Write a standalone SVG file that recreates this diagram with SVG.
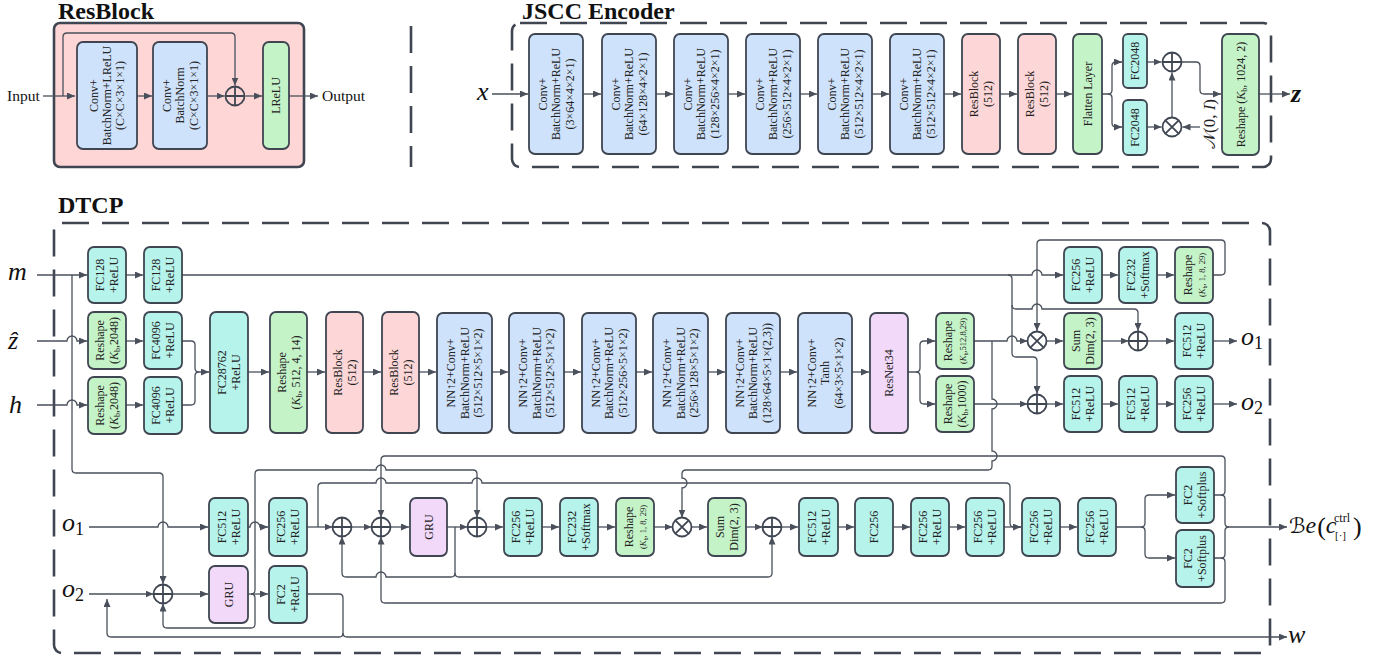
<svg xmlns="http://www.w3.org/2000/svg" width="1385" height="667" viewBox="0 0 1385 667">
<defs>
<marker id="ar" markerUnits="userSpaceOnUse" markerWidth="8" markerHeight="7" refX="8" refY="3.5" orient="auto"><path d="M0,0 L8,3.5 L0,7 z" fill="#4a505b"/></marker>
<style>
.bx{stroke:#3f4652;stroke-width:1.8}
.blue{fill:#cfe2fb}.pink{fill:#fdd7d7}.green{fill:#c5f3c8}.cyan{fill:#b6f3ea}.purple{fill:#f2d9fa}
.t{font-family:"Liberation Serif",serif;font-size:12px;fill:#222;text-anchor:middle}
.s{font-size:8.5px}
.ttl{font-family:"Liberation Serif",serif;font-size:24px;font-weight:bold;fill:#111}
.lab{font-family:"Liberation Serif",serif;font-size:26px;font-style:italic;fill:#111}
.io{font-family:"Liberation Serif",serif;font-size:15.5px;fill:#111}
.dash{fill:none;stroke:#3f4652;stroke-width:2.6;stroke-dasharray:27 13}
.c{fill:none;stroke:#4a505b;stroke-width:1.3}
.cm{fill:none;stroke:#4a505b;stroke-width:1.3;marker-end:url(#ar)}
.op{fill:none;stroke:#3f4652;stroke-width:1.8}
</style>
</defs>
<rect width="1385" height="667" fill="#fff"/>

<!-- titles -->
<text class="ttl" x="58" y="19">ResBlock</text>
<text class="ttl" x="522" y="19">JSCC Encoder</text>
<text class="ttl" x="58" y="213">DTCP</text>

<!-- frames -->
<rect x="54" y="23" width="250" height="144" rx="6" fill="#fed6d6" stroke="#3f4652" stroke-width="2.6"/>
<line x1="411" y1="26" x2="411" y2="167" class="dash"/>
<rect x="512" y="23" width="759" height="144" rx="8" class="dash"/>
<rect x="54" y="223" width="1216" height="430" rx="8" class="dash"/>

<!-- connectors -->
<g id="connectors">
<path class="cm" d="M43,96 H75"/>
<path class="cm" d="M63,96 V37 Q63,33 67,33 H231 Q235,33 235,37 V85.5"/>
<path class="cm" d="M137,96 H152"/>
<path class="cm" d="M207,96 H224.5"/>
<path class="cm" d="M245.5,96 H262"/>
<path class="cm" d="M289,96 H318"/>

<path class="cm" d="M492,94 H528"/>
<path class="cm" d="M583,94 H601"/>
<path class="cm" d="M656,94 H673"/>
<path class="cm" d="M728,94 H745"/>
<path class="cm" d="M800,94 H817"/>
<path class="cm" d="M872,94 H889"/>
<path class="cm" d="M944,94 H961"/>
<path class="cm" d="M1000,94 H1017"/>
<path class="cm" d="M1056,94 H1072"/>
<path class="cm" d="M1102,94 H1108 Q1112,94 1112,90 V66 Q1112,62 1116,62 H1122"/>
<path class="cm" d="M1108,94 Q1112,94 1112,98 V123 Q1112,127 1116,127 H1122"/>
<path class="cm" d="M1147,62 H1161.5"/>
<path class="cm" d="M1147,127 H1161.5"/>
<path class="cm" d="M1172,117.5 V72.5"/>
<path class="cm" d="M1200,127 H1182.5"/>
<path class="cm" d="M1182,62 H1196 Q1200,62 1200,66 V90 Q1200,94 1204,94 H1221"/>
<path class="cm" d="M1259,94 H1290"/>

<path class="cm" d="M37,275 H87"/>
<path class="cm" d="M126,275 H143"/>
<path class="cm" d="M182,275 H1032 A5,5 0 0 1 1042,275 H1063"/>
<path class="cm" d="M1008,275 Q1012,275 1012,279 V353 Q1012,357 1016,357 H1033 Q1037,357 1037,361 V394"/>
<path class="cm" d="M1012,305 Q1012,309 1016,309 H1032 A5,5 0 0 1 1042,309 H1134 Q1138,309 1138,313 V331"/>
<path class="cm" d="M1213,275 H1221 Q1225,275 1225,271 V244 Q1225,240 1221,240 H1041 Q1037,240 1037,244 V331"/>
<path class="cm" d="M37,341 H67 A5,5 0 0 1 77,341 H87"/>
<path class="cm" d="M37,405 H67 A5,5 0 0 1 77,405 H87"/>
<path class="cm" d="M72,275 V469 Q72,473 76,473 H159 Q163,473 163,477 V584"/>
<path class="cm" d="M126,341 H143"/>
<path class="cm" d="M126,405 H143"/>
<path class="cm" d="M182,341 H191 Q195,341 195,345 V368 Q195,372 199,372 H209"/>
<path class="c" d="M182,405 H191 Q195,405 195,401 V376 Q195,372 199,372"/>
<path class="cm" d="M248,372 H269"/>
<path class="cm" d="M307,372 H325"/>
<path class="cm" d="M363,372 H381"/>
<path class="cm" d="M419,372 H436"/>
<path class="cm" d="M492,372 H508"/>
<path class="cm" d="M564,372 H581"/>
<path class="cm" d="M636,372 H652"/>
<path class="cm" d="M708,372 H725"/>
<path class="cm" d="M780,372 H797"/>
<path class="cm" d="M852,372 H869"/>
<path class="cm" d="M908,372 H916 Q920,372 920,368 V345 Q920,341 924,341 H935"/>
<path class="cm" d="M916,372 Q920,372 920,376 V400 Q920,404 924,404 H935"/>
<path class="cm" d="M974,341 H1007 A5,5 0 0 1 1017,341 H1027.5"/>
<path class="cm" d="M992,341 V399 A5,5 0 0 1 992,409 V451 A5,5 0 0 1 992,461 V466 Q992,470 988,470 H686 Q682,470 682,474 V478 A5,5 0 0 1 682,488 V517.5"/>
<path class="cm" d="M974,404 H1027.5"/>
<path class="cm" d="M1046.5,341 H1063"/>
<path class="cm" d="M1102,341 H1128.5"/>
<path class="cm" d="M1147.5,341 H1174"/>
<path class="cm" d="M1213,341 H1237"/>
<path class="cm" d="M1046.5,404 H1063"/>
<path class="cm" d="M1102,404 H1118"/>
<path class="cm" d="M1157,404 H1174"/>
<path class="cm" d="M1213,404 H1237"/>
<path class="cm" d="M1102,275 H1118"/>
<path class="cm" d="M1157,275 H1174"/>

<path class="cm" d="M89,527 H158 A5,5 0 0 1 168,527 H208"/>
<path class="cm" d="M248,527 H250 A5,5 0 0 1 260,527 H268"/>
<path class="cm" d="M307,527 H332.5"/>
<path class="cm" d="M318,527 V487 Q318,483 322,483 H376 A5,5 0 0 1 386,483 H472 A5,5 0 0 1 482,483 H1006 Q1010,483 1010,487 V523 Q1010,527 1014,527 H1021"/>
<path class="cm" d="M351.5,527 H371.5"/>
<path class="cm" d="M390.5,527 H409"/>
<path class="cm" d="M447,527 H467.5"/>
<path class="cm" d="M455,527 V573 Q455,577 451,577 H386 A5,5 0 0 0 376,577 H346 Q342,577 342,573 V536.5"/>
<path class="cm" d="M455,573 Q455,577 459,577 H768 Q772,577 772,573 V536.5"/>
<path class="cm" d="M486.5,527 H503"/>
<path class="cm" d="M542,527 H559"/>
<path class="cm" d="M598,527 H615"/>
<path class="cm" d="M654,527 H672.5"/>
<path class="cm" d="M691.5,527 H707"/>
<path class="cm" d="M746,527 H762.5"/>
<path class="cm" d="M781.5,527 H798"/>
<path class="cm" d="M838,527 H854"/>
<path class="cm" d="M893,527 H910"/>
<path class="cm" d="M949,527 H965"/>
<path class="c" d="M1004,527 H1021"/>
<path class="cm" d="M1060,527 H1077"/>
<path class="cm" d="M1116,527 H1141 Q1145,527 1145,523 V499 Q1145,495 1149,495 H1175"/>
<path class="cm" d="M1141,527 Q1145,527 1145,531 V554 Q1145,558 1149,558 H1175"/>
<path class="cm" d="M1214,495 H1221 Q1225,495 1225,491 V460 Q1225,456 1221,456 H385 Q381,456 381,460 V517.5"/>
<path class="cm" d="M1221,495 Q1225,495 1225,499 V523 Q1225,527 1229,527 H1287"/>
<path class="c" d="M1214,558 H1221 Q1225,558 1225,554 V531 Q1225,527 1229,527"/>
<path class="cm" d="M1221,558 Q1225,558 1225,562 V599 Q1225,603 1221,603 H385 Q381,603 381,599 V536.5"/>
<path class="cm" d="M89,594 H153.5"/>
<path class="cm" d="M172.5,594 H208"/>
<path class="cm" d="M248,594 H268"/>
<path class="cm" d="M251,594 Q255,594 255,590 V474 Q255,470 259,470 H376 A5,5 0 0 1 386,470 H473 Q477,470 477,474 V517.5"/>
<path class="cm" d="M251,594 Q255,594 255,598 V624 Q255,628 251,628 H167 Q163,628 163,624 V603.5"/>
<path class="cm" d="M307,594 H339 Q343,594 343,598 V633 Q343,637 347,637 H1287"/>
<path class="cm" d="M343,633 Q343,637 339,637 H111 Q107,637 107,633 V599"/>
</g>

<!-- operators -->
<g id="ops">
<g id="op_rb"><circle class="op" cx="235" cy="96" r="9.5" fill="none"/><path class="op" d="M225.5,96 H244.5 M235,86.5 V105.5"/></g>
<g id="op_e1"><circle class="op" cx="1172" cy="62" r="9.5"/><path class="op" d="M1162.5,62 H1181.5 M1172,52.5 V71.5"/></g>
<g id="op_e2"><circle class="op" cx="1172" cy="127" r="9.5"/><path class="op" d="M1165.3,120.3 L1178.7,133.7 M1178.7,120.3 L1165.3,133.7"/></g>
<g id="op_t1"><circle class="op" cx="1037" cy="341" r="9.5"/><path class="op" d="M1030.3,334.3 L1043.7,347.7 M1043.7,334.3 L1030.3,347.7"/></g>
<g id="op_t2"><circle class="op" cx="1138" cy="341" r="9.5"/><path class="op" d="M1128.5,341 H1147.5 M1138,331.5 V350.5"/></g>
<g id="op_t3"><circle class="op" cx="1037" cy="404" r="9.5"/><path class="op" d="M1027.5,404 H1046.5 M1037,394.5 V413.5"/></g>
<g id="op_b0"><circle class="op" cx="163" cy="594" r="9.5"/><path class="op" d="M153.5,594 H172.5 M163,584.5 V603.5"/></g>
<g id="op_b1"><circle class="op" cx="342" cy="527" r="9.5"/><path class="op" d="M332.5,527 H351.5 M342,517.5 V536.5"/></g>
<g id="op_b2"><circle class="op" cx="381" cy="527" r="9.5"/><path class="op" d="M371.5,527 H390.5 M381,517.5 V536.5"/></g>
<g id="op_b3"><circle class="op" cx="477" cy="527" r="9.5"/><path class="op" d="M467.5,527 H486.5 M477,517.5 V536.5"/></g>
<g id="op_b4"><circle class="op" cx="682" cy="527" r="9.5"/><path class="op" d="M675.3,520.3 L688.7,533.7 M688.7,520.3 L675.3,533.7"/></g>
<g id="op_b5"><circle class="op" cx="772" cy="527" r="9.5"/><path class="op" d="M762.5,527 H781.5 M772,517.5 V536.5"/></g>
</g>

<!-- ResBlock nodes -->
<g id="rb1"><rect class="bx blue" x="77" y="42" width="60" height="107" rx="6"/><text class="t" transform="translate(107,95.5) rotate(-90)"><tspan x="0" y="-9">Conv+</tspan><tspan x="0" y="4">BatchNorm+LReLU</tspan><tspan x="0" y="17">(C×C×3×1×1)</tspan></text></g>
<g id="rb2"><rect class="bx blue" x="153" y="42" width="54" height="107" rx="6"/><text class="t" transform="translate(180,95.5) rotate(-90)"><tspan x="0" y="-9.5">Conv+</tspan><tspan x="0" y="4">BatchNorm</tspan><tspan x="0" y="17.5">(C×C×3×1×1)</tspan></text></g>
<g id="rb3"><rect class="bx green" x="263" y="42" width="26" height="107" rx="6"/><text class="t" transform="translate(276,95.5) rotate(-90)"><tspan x="0" y="4">LReLU</tspan></text></g>
<text class="io" x="7" y="101">Input</text>
<text class="io" x="322" y="101">Output</text>

<!-- Encoder nodes -->
<g id="e1"><rect class="bx blue" x="529" y="34" width="54" height="120" rx="6"/><text class="t" transform="translate(556,94) rotate(-90)"><tspan x="0" y="-9.5">Conv+</tspan><tspan x="0" y="4">BatchNorm+ReLU</tspan><tspan x="0" y="17.5">(3×64×4×2×1)</tspan></text></g>
<g id="e2"><rect class="bx blue" x="602" y="34" width="54" height="120" rx="6"/><text class="t" transform="translate(629,94) rotate(-90)"><tspan x="0" y="-9.5">Conv+</tspan><tspan x="0" y="4">BatchNorm+ReLU</tspan><tspan x="0" y="17.5">(64×128×4×2×1)</tspan></text></g>
<g id="e3"><rect class="bx blue" x="674" y="34" width="54" height="120" rx="6"/><text class="t" transform="translate(701,94) rotate(-90)"><tspan x="0" y="-9.5">Conv+</tspan><tspan x="0" y="4">BatchNorm+ReLU</tspan><tspan x="0" y="17.5">(128×256×4×2×1)</tspan></text></g>
<g id="e4"><rect class="bx blue" x="746" y="34" width="54" height="120" rx="6"/><text class="t" transform="translate(773,94) rotate(-90)"><tspan x="0" y="-9.5">Conv+</tspan><tspan x="0" y="4">BatchNorm+ReLU</tspan><tspan x="0" y="17.5">(256×512×4×2×1)</tspan></text></g>
<g id="e5"><rect class="bx blue" x="818" y="34" width="54" height="120" rx="6"/><text class="t" transform="translate(845,94) rotate(-90)"><tspan x="0" y="-9.5">Conv+</tspan><tspan x="0" y="4">BatchNorm+ReLU</tspan><tspan x="0" y="17.5">(512×512×4×2×1)</tspan></text></g>
<g id="e6"><rect class="bx blue" x="890" y="34" width="54" height="120" rx="6"/><text class="t" transform="translate(917,94) rotate(-90)"><tspan x="0" y="-9.5">Conv+</tspan><tspan x="0" y="4">BatchNorm+ReLU</tspan><tspan x="0" y="17.5">(512×512×4×2×1)</tspan></text></g>
<g id="e7"><rect class="bx pink" x="962" y="34" width="38" height="120" rx="6"/><text class="t" transform="translate(981,94) rotate(-90)"><tspan x="0" y="-3">ResBlock</tspan><tspan x="0" y="11">(512)</tspan></text></g>
<g id="e8"><rect class="bx pink" x="1018" y="34" width="38" height="120" rx="6"/><text class="t" transform="translate(1037,94) rotate(-90)"><tspan x="0" y="-3">ResBlock</tspan><tspan x="0" y="11">(512)</tspan></text></g>
<g id="e9"><rect class="bx green" x="1073" y="34" width="29" height="120" rx="6"/><text class="t" transform="translate(1087.5,94) rotate(-90)"><tspan x="0" y="4">Flatten Layer</tspan></text></g>
<g id="e10"><rect class="bx cyan" x="1123" y="34" width="24" height="54" rx="5"/><text class="t" transform="translate(1135,61) rotate(-90)"><tspan x="0" y="4">FC2048</tspan></text></g>
<g id="e11"><rect class="bx cyan" x="1123" y="100" width="24" height="55" rx="5"/><text class="t" transform="translate(1135,127.5) rotate(-90)"><tspan x="0" y="4">FC2048</tspan></text></g>
<g id="e12"><rect class="bx green" x="1222" y="34" width="37" height="121" rx="6"/><text class="t" transform="translate(1240.5,94.5) rotate(-90)"><tspan x="0" y="4">Reshape (<tspan font-style="italic">K</tspan><tspan font-size="8" dy="2">b</tspan><tspan dy="-2">, 1024, 2)</tspan></tspan></text></g>
<text class="t" style="font-size:17px" transform="translate(1215,124) rotate(-90)">𝒩(0, <tspan font-style="italic">I</tspan>)</text>
<text class="lab" x="477" y="100">x</text>
<text class="lab" x="1291" y="102" font-weight="bold">z</text>

<!-- DTCP top nodes -->
<g id="d1"><rect class="bx cyan" x="88" y="247" width="38" height="56" rx="6"/><text class="t" transform="translate(107,275) rotate(-90)"><tspan x="0" y="-3">FC128</tspan><tspan x="0" y="11">+ReLU</tspan></text></g>
<g id="d2"><rect class="bx cyan" x="144" y="247" width="38" height="56" rx="6"/><text class="t" transform="translate(163,275) rotate(-90)"><tspan x="0" y="-3">FC128</tspan><tspan x="0" y="11">+ReLU</tspan></text></g>
<g id="d3"><rect class="bx green" x="88" y="312" width="38" height="57" rx="6"/><text class="t" transform="translate(107,340.5) rotate(-90)"><tspan x="0" y="-3">Reshape</tspan><tspan x="0" y="11">(<tspan font-style="italic">K</tspan><tspan font-size="8" dy="2">b</tspan><tspan dy="-2">,2048)</tspan></tspan></text></g>
<g id="d4"><rect class="bx cyan" x="144" y="312" width="38" height="57" rx="6"/><text class="t" transform="translate(163,340.5) rotate(-90)"><tspan x="0" y="-3">FC4096</tspan><tspan x="0" y="11">+ReLU</tspan></text></g>
<g id="d5"><rect class="bx green" x="88" y="377" width="38" height="57" rx="6"/><text class="t" transform="translate(107,405.5) rotate(-90)"><tspan x="0" y="-3">Reshape</tspan><tspan x="0" y="11">(<tspan font-style="italic">K</tspan><tspan font-size="8" dy="2">b</tspan><tspan dy="-2">,2048)</tspan></tspan></text></g>
<g id="d6"><rect class="bx cyan" x="144" y="377" width="38" height="57" rx="6"/><text class="t" transform="translate(163,405.5) rotate(-90)"><tspan x="0" y="-3">FC4096</tspan><tspan x="0" y="11">+ReLU</tspan></text></g>
<g id="d7"><rect class="bx cyan" x="210" y="312" width="38" height="121" rx="6"/><text class="t" transform="translate(229,372.5) rotate(-90)"><tspan x="0" y="-3">FC28762</tspan><tspan x="0" y="11">+ReLU</tspan></text></g>
<g id="d8"><rect class="bx green" x="270" y="312" width="37" height="121" rx="6"/><text class="t" transform="translate(288.5,372.5) rotate(-90)"><tspan x="0" y="-3">Reshape</tspan><tspan x="0" y="11">(<tspan font-style="italic">K</tspan><tspan font-size="8" dy="2">b</tspan><tspan dy="-2">, 512, 4, 14)</tspan></tspan></text></g>
<g id="d9"><rect class="bx pink" x="326" y="312" width="37" height="121" rx="6"/><text class="t" transform="translate(344.5,372.5) rotate(-90)"><tspan x="0" y="-3">ResBlock</tspan><tspan x="0" y="11">(512)</tspan></text></g>
<g id="d10"><rect class="bx pink" x="382" y="312" width="37" height="121" rx="6"/><text class="t" transform="translate(400.5,372.5) rotate(-90)"><tspan x="0" y="-3">ResBlock</tspan><tspan x="0" y="11">(512)</tspan></text></g>
<g id="d11"><rect class="bx blue" x="437" y="313" width="55" height="120" rx="6"/><text class="t" transform="translate(464.5,373) rotate(-90)"><tspan x="0" y="-9.5">NN↑2+Conv+</tspan><tspan x="0" y="4">BatchNorm+ReLU</tspan><tspan x="0" y="17.5">(512×512×5×1×2)</tspan></text></g>
<g id="d12"><rect class="bx blue" x="509" y="313" width="55" height="120" rx="6"/><text class="t" transform="translate(536.5,373) rotate(-90)"><tspan x="0" y="-9.5">NN↑2+Conv+</tspan><tspan x="0" y="4">BatchNorm+ReLU</tspan><tspan x="0" y="17.5">(512×512×5×1×2)</tspan></text></g>
<g id="d13"><rect class="bx blue" x="582" y="313" width="54" height="120" rx="6"/><text class="t" transform="translate(609,373) rotate(-90)"><tspan x="0" y="-9.5">NN↑2+Conv+</tspan><tspan x="0" y="4">BatchNorm+ReLU</tspan><tspan x="0" y="17.5">(512×256×5×1×2)</tspan></text></g>
<g id="d14"><rect class="bx blue" x="653" y="313" width="55" height="120" rx="6"/><text class="t" transform="translate(680.5,373) rotate(-90)"><tspan x="0" y="-9.5">NN↑2+Conv+</tspan><tspan x="0" y="4">BatchNorm+ReLU</tspan><tspan x="0" y="17.5">(256×128×5×1×2)</tspan></text></g>
<g id="d15"><rect class="bx blue" x="726" y="313" width="54" height="120" rx="6"/><text class="t" transform="translate(753,373) rotate(-90)"><tspan x="0" y="-9.5">NN↑2+Conv+</tspan><tspan x="0" y="4">BatchNorm+ReLU</tspan><tspan x="0" y="17.5">(128×64×5×1×(2,3))</tspan></text></g>
<g id="d16"><rect class="bx blue" x="798" y="313" width="54" height="120" rx="6"/><text class="t" transform="translate(825,373) rotate(-90)"><tspan x="0" y="-9.5">NN↑2+Conv+</tspan><tspan x="0" y="4">Tanh</tspan><tspan x="0" y="17.5">(64×3×5×1×2)</tspan></text></g>
<g id="d17"><rect class="bx purple" x="870" y="313" width="38" height="120" rx="6"/><text class="t" transform="translate(889,373) rotate(-90)"><tspan x="0" y="4">ResNet34</tspan></text></g>
<g id="d18"><rect class="bx green" x="936" y="313" width="38" height="56" rx="6"/><text class="t" transform="translate(955,341) rotate(-90)"><tspan x="0" y="-3">Reshape</tspan><tspan class="s" x="0" y="11">(<tspan font-style="italic">K</tspan><tspan font-size="6" dy="1.5">b</tspan><tspan dy="-1.5">,512,8,29)</tspan></tspan></text></g>
<g id="d19"><rect class="bx green" x="936" y="376" width="38" height="56" rx="6"/><text class="t" transform="translate(955,404) rotate(-90)"><tspan x="0" y="-3">Reshape</tspan><tspan x="0" y="11">(<tspan font-style="italic">K</tspan><tspan font-size="8" dy="2">b</tspan><tspan dy="-2">,1000)</tspan></tspan></text></g>
<g id="d20"><rect class="bx cyan" x="1064" y="247" width="38" height="56" rx="6"/><text class="t" transform="translate(1083,275) rotate(-90)"><tspan x="0" y="-3">FC256</tspan><tspan x="0" y="11">+ReLU</tspan></text></g>
<g id="d21"><rect class="bx cyan" x="1119" y="247" width="38" height="56" rx="6"/><text class="t" transform="translate(1138,275) rotate(-90)"><tspan x="0" y="-3">FC232</tspan><tspan x="0" y="11">+Softmax</tspan></text></g>
<g id="d22"><rect class="bx green" x="1175" y="247" width="38" height="56" rx="6"/><text class="t" transform="translate(1194,275) rotate(-90)"><tspan x="0" y="-2">Reshape</tspan><tspan class="s" x="0" y="11">(<tspan font-style="italic">K</tspan><tspan font-size="6" dy="1.5">b</tspan><tspan dy="-1.5">, 1, 8, 29)</tspan></tspan></text></g>
<g id="d23"><rect class="bx green" x="1064" y="313" width="38" height="56" rx="6"/><text class="t" transform="translate(1083,341) rotate(-90)"><tspan x="0" y="-3">Sum</tspan><tspan x="0" y="11">Dim(2, 3)</tspan></text></g>
<g id="d24"><rect class="bx cyan" x="1175" y="313" width="38" height="56" rx="6"/><text class="t" transform="translate(1194,341) rotate(-90)"><tspan x="0" y="-3">FC512</tspan><tspan x="0" y="11">+ReLU</tspan></text></g>
<g id="d25"><rect class="bx cyan" x="1064" y="376" width="38" height="56" rx="6"/><text class="t" transform="translate(1083,404) rotate(-90)"><tspan x="0" y="-3">FC512</tspan><tspan x="0" y="11">+ReLU</tspan></text></g>
<g id="d26"><rect class="bx cyan" x="1119" y="376" width="38" height="56" rx="6"/><text class="t" transform="translate(1138,404) rotate(-90)"><tspan x="0" y="-3">FC512</tspan><tspan x="0" y="11">+ReLU</tspan></text></g>
<g id="d27"><rect class="bx cyan" x="1175" y="376" width="38" height="56" rx="6"/><text class="t" transform="translate(1194,404) rotate(-90)"><tspan x="0" y="-3">FC256</tspan><tspan x="0" y="11">+ReLU</tspan></text></g>

<!-- DTCP bottom nodes -->
<g id="b1"><rect class="bx cyan" x="209" y="498" width="39" height="58" rx="6"/><text class="t" transform="translate(228.5,527) rotate(-90)"><tspan x="0" y="-3">FC512</tspan><tspan x="0" y="11">+ReLU</tspan></text></g>
<g id="b2"><rect class="bx cyan" x="269" y="498" width="38" height="58" rx="6"/><text class="t" transform="translate(288,527) rotate(-90)"><tspan x="0" y="-3">FC256</tspan><tspan x="0" y="11">+ReLU</tspan></text></g>
<g id="b3"><rect class="bx purple" x="209" y="566" width="39" height="57" rx="6"/><text class="t" transform="translate(228.5,594.5) rotate(-90)"><tspan x="0" y="4">GRU</tspan></text></g>
<g id="b4"><rect class="bx cyan" x="269" y="566" width="38" height="57" rx="6"/><text class="t" transform="translate(288,594.5) rotate(-90)"><tspan x="0" y="-3">FC2</tspan><tspan x="0" y="11">+ReLU</tspan></text></g>
<g id="b5"><rect class="bx purple" x="410" y="498" width="37" height="58" rx="6"/><text class="t" transform="translate(428.5,527) rotate(-90)"><tspan x="0" y="4">GRU</tspan></text></g>
<g id="b6"><rect class="bx cyan" x="504" y="498" width="38" height="58" rx="6"/><text class="t" transform="translate(523,527) rotate(-90)"><tspan x="0" y="-3">FC256</tspan><tspan x="0" y="11">+ReLU</tspan></text></g>
<g id="b7"><rect class="bx cyan" x="560" y="498" width="38" height="58" rx="6"/><text class="t" transform="translate(579,527) rotate(-90)"><tspan x="0" y="-3">FC232</tspan><tspan x="0" y="11">+Softmax</tspan></text></g>
<g id="b8"><rect class="bx green" x="616" y="498" width="38" height="58" rx="6"/><text class="t" transform="translate(635,527) rotate(-90)"><tspan x="0" y="-2">Reshape</tspan><tspan class="s" x="0" y="11">(<tspan font-style="italic">K</tspan><tspan font-size="6" dy="1.5">b</tspan><tspan dy="-1.5">, 1, 8, 29)</tspan></tspan></text></g>
<g id="b9"><rect class="bx green" x="708" y="498" width="38" height="58" rx="6"/><text class="t" transform="translate(727,527) rotate(-90)"><tspan x="0" y="-3">Sum</tspan><tspan x="0" y="11">Dim(2, 3)</tspan></text></g>
<g id="b10"><rect class="bx cyan" x="799" y="498" width="39" height="58" rx="6"/><text class="t" transform="translate(818.5,527) rotate(-90)"><tspan x="0" y="-3">FC512</tspan><tspan x="0" y="11">+ReLU</tspan></text></g>
<g id="b11"><rect class="bx cyan" x="855" y="498" width="38" height="58" rx="6"/><text class="t" transform="translate(874,527) rotate(-90)"><tspan x="0" y="4">FC256</tspan></text></g>
<g id="b12"><rect class="bx cyan" x="911" y="498" width="38" height="58" rx="6"/><text class="t" transform="translate(930,527) rotate(-90)"><tspan x="0" y="-3">FC256</tspan><tspan x="0" y="11">+ReLU</tspan></text></g>
<g id="b13"><rect class="bx cyan" x="966" y="498" width="38" height="58" rx="6"/><text class="t" transform="translate(985,527) rotate(-90)"><tspan x="0" y="-3">FC256</tspan><tspan x="0" y="11">+ReLU</tspan></text></g>
<g id="b14"><rect class="bx cyan" x="1022" y="498" width="38" height="58" rx="6"/><text class="t" transform="translate(1041,527) rotate(-90)"><tspan x="0" y="-3">FC256</tspan><tspan x="0" y="11">+ReLU</tspan></text></g>
<g id="b15"><rect class="bx cyan" x="1078" y="498" width="38" height="58" rx="6"/><text class="t" transform="translate(1097,527) rotate(-90)"><tspan x="0" y="-3">FC256</tspan><tspan x="0" y="11">+ReLU</tspan></text></g>
<g id="b16"><rect class="bx cyan" x="1176" y="467" width="38" height="56" rx="6"/><text class="t" transform="translate(1195,495) rotate(-90)"><tspan x="0" y="-3">FC2</tspan><tspan x="0" y="11">+Softplus</tspan></text></g>
<g id="b17"><rect class="bx cyan" x="1176" y="530" width="38" height="57" rx="6"/><text class="t" transform="translate(1195,558.5) rotate(-90)"><tspan x="0" y="-3">FC2</tspan><tspan x="0" y="11">+Softplus</tspan></text></g>

<!-- labels -->
<text class="lab" x="8" y="280">m</text>
<text class="lab" x="8" y="349">ẑ</text>
<text class="lab" x="9" y="413">h</text>
<text class="lab" x="62" y="531">o<tspan font-style="normal" font-size="18" dy="4">1</tspan></text>
<text class="lab" x="62" y="597">o<tspan font-style="normal" font-size="18" dy="4">2</tspan></text>
<text class="lab" x="1241" y="345">o<tspan font-style="normal" font-size="18" dy="4">1</tspan></text>
<text class="lab" x="1241" y="410">o<tspan font-style="normal" font-size="18" dy="4">2</tspan></text>
<text class="lab" x="1288" y="643">w</text>
<text class="lab" style="font-size:24px"><tspan x="1289" y="533" font-family="'DejaVu Serif','DejaVu Sans',serif" font-style="normal" font-size="21">ℬ</tspan><tspan>e</tspan><tspan font-style="normal" font-size="26" dx="1" y="535">(</tspan><tspan y="533">c</tspan><tspan font-style="normal" font-size="12" x="1334" y="522">ctrl</tspan><tspan font-style="normal" font-size="11" x="1335" y="539">[·]</tspan><tspan font-style="normal" font-size="26" x="1353" y="535">)</tspan></text>
</svg>
